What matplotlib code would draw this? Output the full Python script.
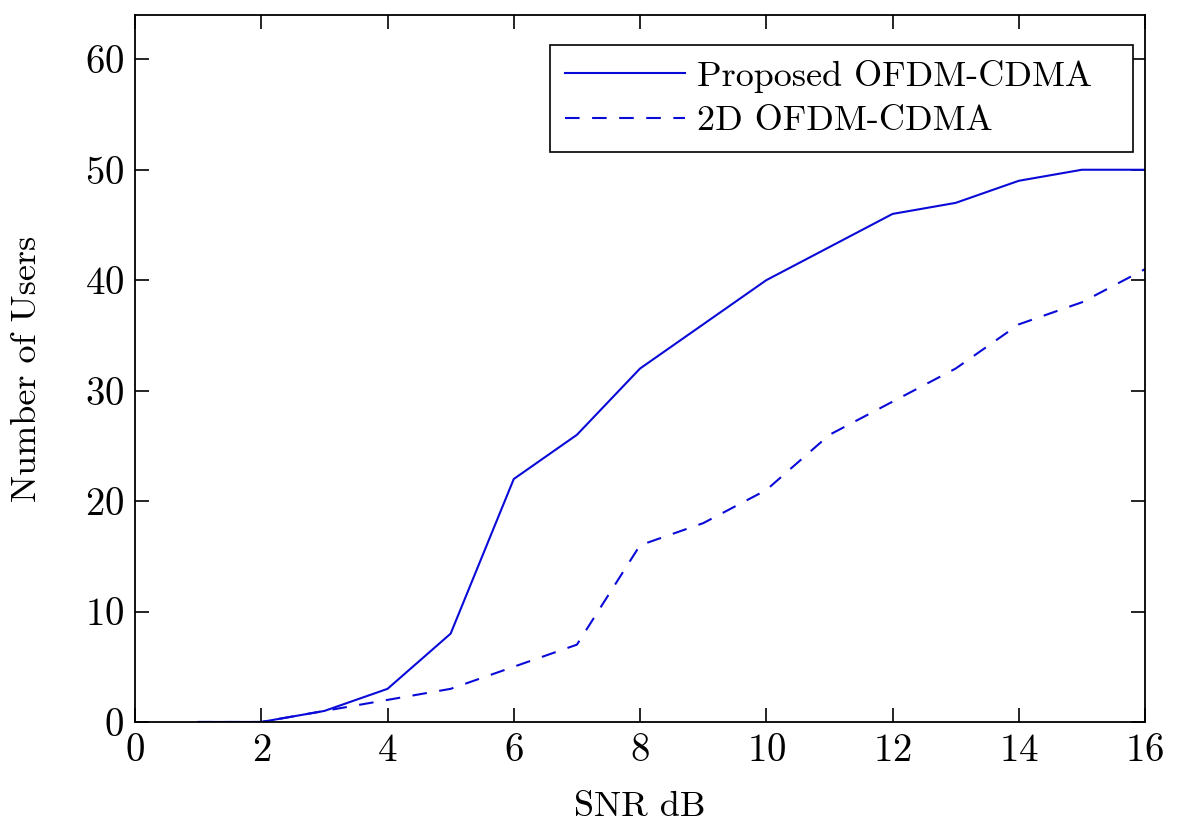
import matplotlib
matplotlib.use("Agg")
from matplotlib import pyplot as plt

plt.rcParams['font.family'] = ['cmr10', 'DejaVu Serif']
plt.rcParams['mathtext.fontset'] = 'cm'
plt.rcParams['axes.formatter.use_mathtext'] = True

snr = [1, 2, 3, 4, 5, 6, 7, 8, 9, 10, 11, 12, 13, 14, 15, 16]
proposed = [0, 0, 1, 3, 8, 22, 26, 32, 36, 40, 43, 46, 47, 49, 50, 50]
ofdm_2d = [0, 0, 1, 2, 3, 5, 7, 16, 18, 21, 26, 29, 32, 36, 38, 41]

fig = plt.figure(figsize=(12, 8.4), dpi=100)
ax = fig.add_axes([0.1125, 0.1405, 0.8417, 0.8415])

ax.plot(snr, proposed, color='#0a0ad8', lw=1.5, label='Proposed OFDM-CDMA')
ax.plot(snr, ofdm_2d, color='#0a0ad8', lw=1.5, dashes=(7, 6), label='2D OFDM-CDMA')

ax.set_xlim(0, 16)
ax.set_ylim(0, 64)
ax.set_xticks(range(0, 17, 2))
ax.set_yticks(range(0, 61, 10))
ax.tick_params(direction='in', length=10, width=1.2, labelsize=28, pad=8,
               top=True, right=True)
for s in ax.spines.values():
    s.set_linewidth(1.3)

ax.set_xlabel('SNR dB', fontsize=26, labelpad=16)
ax.set_ylabel('Number of Users', fontsize=26, labelpad=30)

# legend box stretched to the width used in the original figure
leg = ax.legend(loc='upper left', mode='expand', fontsize=26, frameon=True,
                fancybox=False, edgecolor='black', framealpha=1,
                handlelength=3.33, handletextpad=0.35, borderpad=0.4,
                labelspacing=0.35, bbox_to_anchor=(0.411, 0.9576, 0.577, 0.0),
                borderaxespad=0)
leg.get_frame().set_linewidth(1.2)

fig.savefig('out.png', dpi=100)
